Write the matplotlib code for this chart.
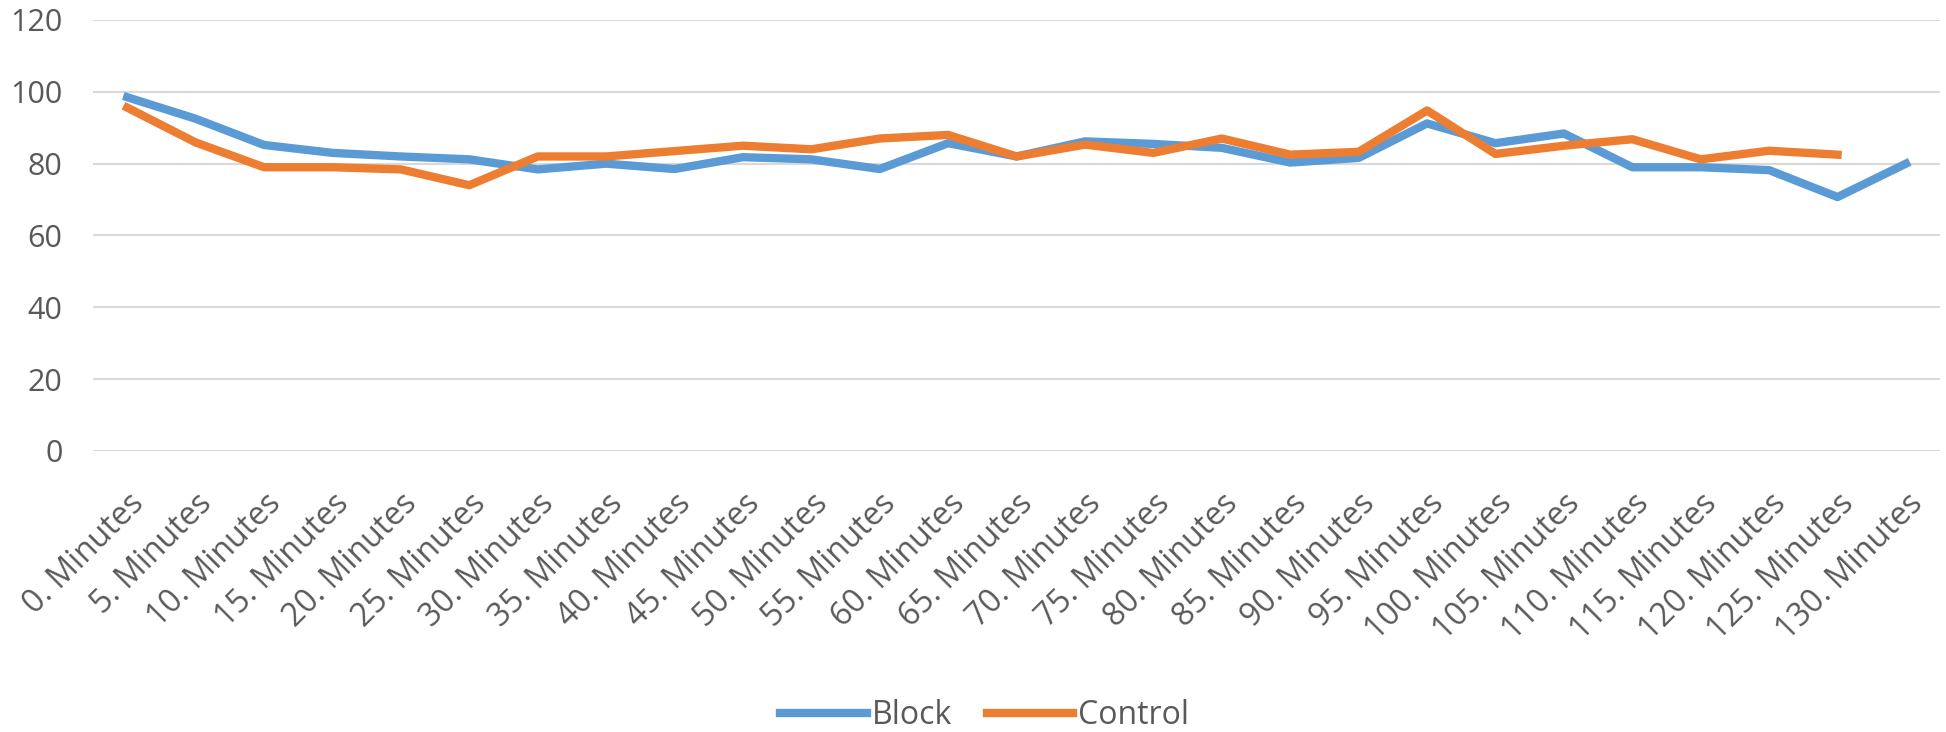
import matplotlib
matplotlib.use("Agg")
import matplotlib.pyplot as plt
import matplotlib.transforms as mtransforms
import numpy as np

categories = [f"{m}. Minutes" for m in range(0, 135, 5)]
block = [98.5, 92.5, 85.2, 83.0, 82.0, 81.2, 78.4, 80.0, 78.5, 81.8, 81.2, 78.5,
         85.7, 82.0, 86.2, 85.5, 84.4, 80.3, 81.6, 91.2, 85.7, 88.4, 79.0, 79.0,
         78.2, 70.7, 80.0]
control = [95.6, 85.9, 79.0, 79.0, 78.4, 74.0, 82.0, 82.0, 83.5, 85.0, 84.0, 87.0,
           88.0, 82.0, 85.3, 83.0, 87.0, 82.5, 83.3, 94.8, 82.7, 85.0, 86.8, 81.2,
           83.6, 82.5, np.nan]
yticks = [0, 20, 40, 60, 80, 100, 120]

plt.rcParams['font.family'] = ['Open Sans', 'DejaVu Sans']

fig = plt.figure(figsize=(19.46, 7.32), dpi=100)
ax = fig.add_axes([0.0478, 0.3839, 0.9492, 0.5888])

x = np.arange(len(categories))
ax.plot(x, block, color='#5B9BD5', lw=6, label='Block', solid_joinstyle='round')
ax.plot(x, control, color='#ED7D31', lw=6, label='Control', solid_joinstyle='round')

ax.set_xlim(-0.5, len(categories) - 0.5)
ax.set_ylim(0, 120)
ax.set_yticks(yticks)
ax.set_yticklabels([str(v) for v in yticks], fontsize=22, color='#595959')
ax.set_xticks(x)
ax.set_xticklabels(categories, rotation=45, ha='right', va='top', rotation_mode='anchor',
                   fontsize=23, color='#595959')
offset = mtransforms.ScaledTranslation(-10 / 100, 0, fig.dpi_scale_trans)
for lbl in ax.get_xticklabels():
    lbl.set_transform(lbl.get_transform() + offset)
ax.tick_params(axis='both', length=0)
ax.tick_params(axis='y', pad=22)
ax.tick_params(axis='x', pad=26)
ax.grid(axis='y', color='#D9D9D9', lw=1.5)
ax.set_axisbelow(True)
for s in ax.spines.values():
    s.set_visible(False)

leg = fig.legend(loc='center', bbox_to_anchor=(0.506, 0.022), ncol=2, frameon=False,
                 fontsize=23, handlelength=2.7, columnspacing=1.1, handletextpad=0.15)
for t in leg.get_texts():
    t.set_color('#595959')

fig.savefig('out.png', dpi=100)
